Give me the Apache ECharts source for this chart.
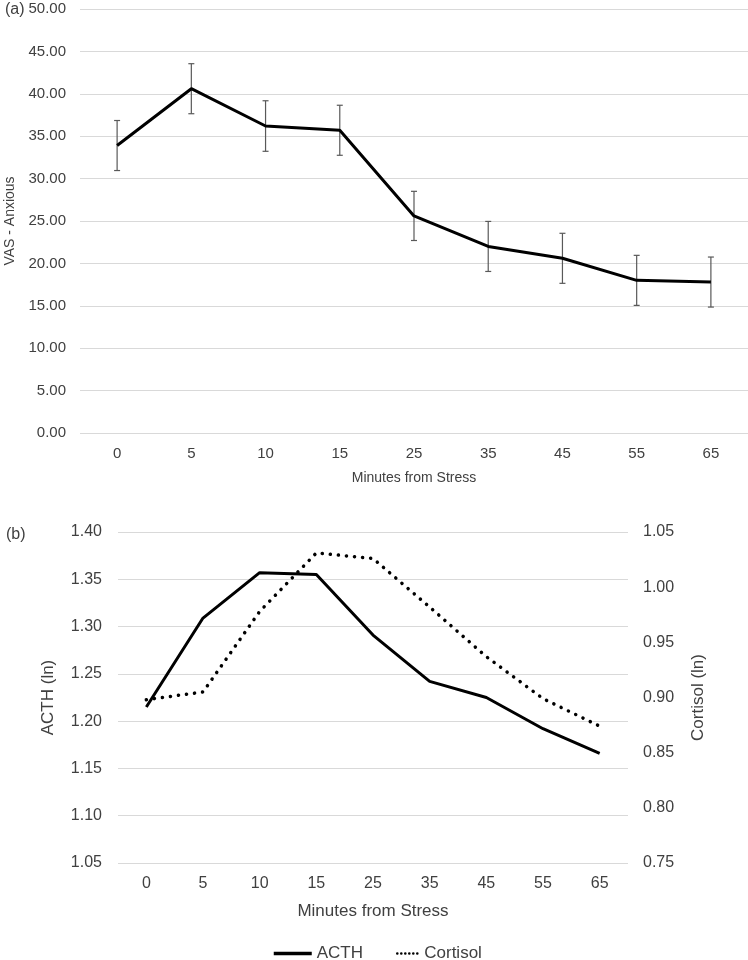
<!DOCTYPE html>
<html>
<head>
<meta charset="utf-8">
<script src="https://cdn.jsdelivr.net/npm/echarts@6/dist/echarts.min.js"></script>
<style>
html,body{margin:0;padding:0;background:#fff;}
#chart{width:748px;height:960px;}
</style>
</head>
<body>
<div id="chart"></div>
<script>
const minutes = ['0','5','10','15','25','35','45','55','65'];
const vasMean = [33.9, 40.6, 36.2, 35.7, 25.6, 22.0, 20.6, 18.0, 17.8];
const vasErr = [2.95, 2.95, 2.98, 2.95, 2.9, 2.95, 2.95, 2.95, 2.95];
const acth = [1.215, 1.309, 1.357, 1.355, 1.291, 1.242, 1.225, 1.192, 1.166];
const cortisol = [0.898, 0.905, 0.978, 1.031, 1.026, 0.982, 0.937, 0.899, 0.874];

const FONT = '"Liberation Sans", Arial, sans-serif';
const TXT = '#404040';
const GRID = '#d9d9d9';

const errData = minutes.map((m, i) => [i, vasMean[i] - vasErr[i], vasMean[i] + vasErr[i]]);

const chart = echarts.init(document.getElementById('chart'), null, {renderer: 'canvas'});
chart.setOption({
  animation: false,
  backgroundColor: '#fff',
  textStyle: {fontFamily: FONT},
  title: [
    {text: '(a)', left: 0, top: -3, textStyle: {fontSize: 16, fontWeight: 'normal', color: TXT, fontFamily: FONT}},
    {text: '(b)', left: 1, top: 522, textStyle: {fontSize: 16, fontWeight: 'normal', color: TXT, fontFamily: FONT}}
  ],
  grid: [
    {left: 80, right: 0, top: 9, height: 424, outerBoundsMode: 'none'},
    {left: 118, right: 120, top: 532, height: 331, outerBoundsMode: 'none'}
  ],
  legend: [
    {
      data: ['ACTH'], top: 940, left: 267,
      itemWidth: 38, itemHeight: 14, itemGap: 0,
      itemStyle: {opacity: 0},
      lineStyle: {width: 3.5},
      textStyle: {fontSize: 17, color: TXT, fontFamily: FONT}
    },
    {
      data: ['Cortisol'], top: 940, left: 391,
      itemWidth: 22, itemHeight: 14, itemGap: 0,
      itemStyle: {opacity: 0},
      lineStyle: {width: 2.5, type: [0.1, 3.9], cap: 'round'},
      textStyle: {fontSize: 17, color: TXT, fontFamily: FONT}
    }
  ],
  xAxis: [
    {
      type: 'category', gridIndex: 0, data: minutes,
      axisLine: {show: false}, axisTick: {show: false},
      axisLabel: {fontSize: 15, color: TXT, margin: 13, fontFamily: FONT},
      name: 'Minutes from Stress', nameLocation: 'middle', nameGap: 38,
      nameTextStyle: {fontSize: 14, color: TXT, fontFamily: FONT}
    },
    {
      type: 'category', gridIndex: 1, data: minutes,
      axisLine: {show: false}, axisTick: {show: false},
      axisLabel: {fontSize: 16, color: TXT, margin: 13, fontFamily: FONT},
      name: 'Minutes from Stress', nameLocation: 'middle', nameGap: 40,
      nameTextStyle: {fontSize: 17, color: TXT, fontFamily: FONT}
    }
  ],
  yAxis: [
    {
      type: 'value', gridIndex: 0, min: 0, max: 50, interval: 5,
      axisLine: {show: false}, axisTick: {show: false},
      splitLine: {lineStyle: {color: GRID, width: 1}},
      axisLabel: {fontSize: 15, color: TXT, margin: 14, fontFamily: FONT, formatter: v => v.toFixed(2)},
      name: 'VAS - Anxious', nameLocation: 'middle', nameGap: 62, nameRotate: 90,
      nameTextStyle: {fontSize: 14, color: TXT, fontFamily: FONT}
    },
    {
      type: 'value', gridIndex: 1, min: 1.05, max: 1.40, interval: 0.05,
      axisLine: {show: false}, axisTick: {show: false},
      splitLine: {lineStyle: {color: GRID, width: 1}},
      axisLabel: {fontSize: 16, color: TXT, margin: 16, fontFamily: FONT, formatter: v => v.toFixed(2)},
      name: 'ACTH (ln)', nameLocation: 'middle', nameGap: 61, nameRotate: 90,
      nameTextStyle: {fontSize: 17, color: TXT, fontFamily: FONT}
    },
    {
      type: 'value', gridIndex: 1, position: 'right', min: 0.75, max: 1.05, interval: 0.05,
      axisLine: {show: false}, axisTick: {show: false},
      splitLine: {show: false},
      axisLabel: {fontSize: 16, color: TXT, margin: 15, fontFamily: FONT, formatter: v => v.toFixed(2)},
      name: 'Cortisol (ln)', nameLocation: 'middle', nameGap: 62, nameRotate: 90,
      nameTextStyle: {fontSize: 17, color: TXT, fontFamily: FONT}
    }
  ],
  series: [
    {
      type: 'custom', xAxisIndex: 0, yAxisIndex: 0, z: 1,
      data: errData,
      renderItem: function (params, api) {
        const x = api.value(0);
        const lo = api.coord([x, api.value(1)]);
        const hi = api.coord([x, api.value(2)]);
        const w = 3;
        const st = {stroke: '#595959', lineWidth: 1.2};
        return {
          type: 'group',
          children: [
            {type: 'line', shape: {x1: hi[0], y1: hi[1], x2: lo[0], y2: lo[1]}, style: st},
            {type: 'line', shape: {x1: hi[0] - w, y1: hi[1], x2: hi[0] + w, y2: hi[1]}, style: st},
            {type: 'line', shape: {x1: lo[0] - w, y1: lo[1], x2: lo[0] + w, y2: lo[1]}, style: st}
          ]
        };
      }
    },
    {
      name: 'VAS', type: 'line', xAxisIndex: 0, yAxisIndex: 0, z: 3,
      data: vasMean, symbol: 'none',
      lineStyle: {color: '#000', width: 3}
    },
    {
      name: 'ACTH', type: 'line', xAxisIndex: 1, yAxisIndex: 1, z: 3,
      data: acth, symbol: 'none',
      itemStyle: {color: '#000'},
      lineStyle: {color: '#000', width: 3}
    },
    {
      name: 'Cortisol', type: 'line', xAxisIndex: 1, yAxisIndex: 2, z: 3,
      data: cortisol, symbol: 'none',
      itemStyle: {color: '#000'},
      lineStyle: {color: '#000', width: 3.5, type: [0.1, 8], cap: 'round'}
    }
  ]
});
</script>
</body>
</html>
